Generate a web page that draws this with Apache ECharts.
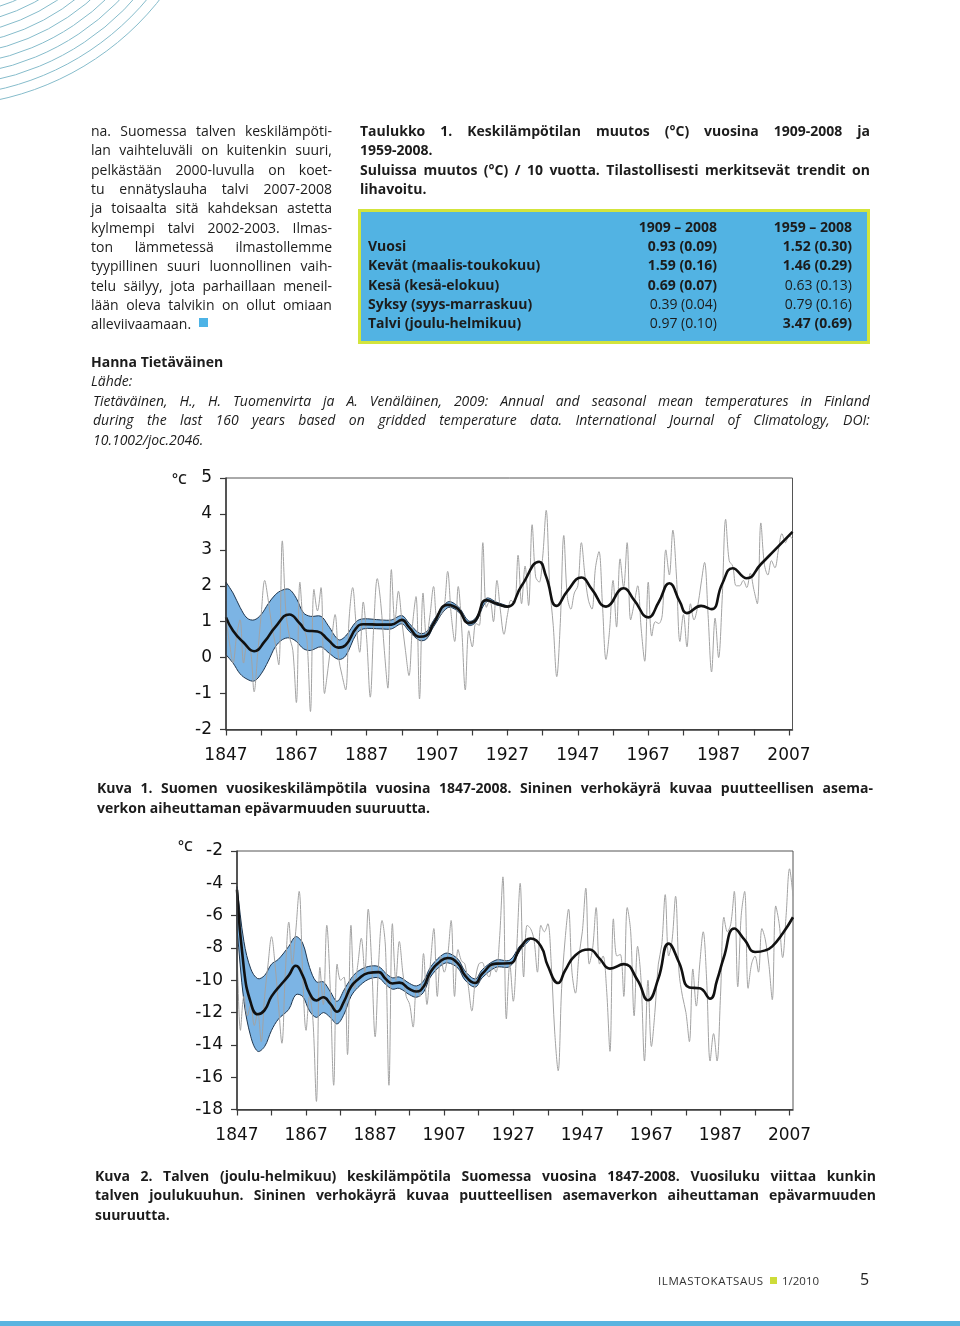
<!DOCTYPE html>
<html><head><meta charset="utf-8">
<script src="https://cdn.jsdelivr.net/npm/echarts@6/dist/echarts.min.js"></script>
<style>
html,body{margin:0;padding:0;background:#fff;}
#page{position:relative;width:960px;height:1326px;overflow:hidden;font-family:'Open Sans','Noto Sans',sans-serif;color:#1c1c1c;}
#chart{position:absolute;left:0;top:0;width:960px;height:1326px;}
.t{position:absolute;white-space:nowrap;}
.j{display:flex;justify-content:space-between;}
</style></head><body><div id="page"><div id="chart"></div></div>
<script>
// ---------- DATA ----------
const firstYear = 1847;
const tickYears = [1847,1857,1867,1877,1887,1897,1907,1917,1927,1937,1947,1957,1967,1977,1987,1997,2007];
const labelYears = [1847,1867,1887,1907,1927,1947,1967,1987,2007];

// Kuva 1: annual mean temperature 1847-2008 (one value per year)
const annual1 = [1.1,0.4,-0.15,0.6,1.05,-0.15,0.35,0.2,-0.95,0.1,
1.2,2.15,1.6,0.9,0.4,-0.2,3.25,1.3,0.6,0.2,
-1.25,2.1,0.9,0.5,-1.5,1.9,1.3,1.95,-1.0,-0.3,
0.5,1.2,0.0,-0.5,-0.9,1.1,1.95,0.9,0.15,1.55,
0.5,-1.1,0.9,2.2,1.5,0.2,-0.85,2.45,1.0,1.85,
1.0,0.2,-0.5,0.9,1.7,-1.15,1.8,0.55,1.2,1.98,
1.1,1.2,1.4,2.4,1.2,0.45,1.98,0.8,-0.9,0.75,
0.3,0.95,0.9,3.2,1.4,1.6,1.0,2.15,1.3,0.65,
1.2,1.6,1.5,2.85,1.5,2.55,1.45,3.7,2.25,2.1,
2.8,4.1,2.0,0.9,-0.53,0.95,3.4,1.7,1.35,1.8,
2.0,3.2,2.3,1.6,1.35,2.5,2.95,1.45,-0.05,0.75,
2.15,0.85,2.75,1.95,3.2,1.05,1.5,2.0,0.8,-0.1,
2.1,0.6,1.0,0.95,1.2,3.0,2.3,3.55,2.3,0.45,
1.2,0.3,1.5,1.05,1.4,2.05,2.65,1.2,-0.4,1.1,
0.0,1.6,3.85,2.7,2.55,2.0,2.0,2.15,1.95,2.35,
1.9,1.5,3.75,2.6,2.3,2.7,2.5,3.0,3.45,3.2,
3.4,3.3];
const meanYears1 = [1847,1849,1852,1855,1858,1861,1865,1868,1870,1873,1876,1879,1881,1884,1886,1891,1894,1897,1899,1902,1904,1906,1910,1913,1916,1918,1921,1924,1927,1931,1936,1938,1941,1944,1948,1951,1955,1960,1963,1967,1970,1973,1976,1978,1982,1985,1988,1991,1995,1999,2003,2008];
const mean1 = [1.12,0.75,0.42,0.18,0.45,0.85,1.2,0.95,0.75,0.73,0.5,0.28,0.35,0.82,0.93,0.92,0.92,1.05,0.85,0.58,0.62,0.95,1.47,1.35,0.96,1.05,1.6,1.5,1.42,2.0,2.67,2.25,1.44,1.85,2.23,1.9,1.42,1.93,1.6,1.12,1.55,2.07,1.55,1.24,1.44,1.35,2.05,2.49,2.21,2.6,3.0,3.5];
const bandYears1 = [1847,1849,1851,1853,1855,1857,1859,1861,1863,1865,1867,1869,1871,1874,1876,1879,1881,1884,1886,1891,1894,1897,1899,1902,1904,1906,1910,1913,1916,1918,1921,1924,1927];
const bandLow1 = [0.08,-0.15,-0.45,-0.6,-0.65,-0.45,-0.1,0.3,0.5,0.55,0.45,0.25,0.2,0.3,0.15,-0.05,0.05,0.65,0.8,0.8,0.8,0.94,0.74,0.48,0.52,0.86,1.39,1.28,0.9,0.99,1.55,1.46,1.4];
const bandHigh1 = [2.1,1.8,1.4,1.1,1.05,1.2,1.5,1.75,1.88,1.9,1.65,1.25,1.15,1.15,0.9,0.5,0.6,1.0,1.08,1.05,1.05,1.17,0.96,0.68,0.72,1.04,1.55,1.42,1.02,1.11,1.65,1.54,1.44];

// Kuva 2: winter (DJF) mean temperature 1847-2008
const annual2 = [-7.5,-13.1,-11.0,-12.2,-11.5,-12.8,-12.0,-13.8,-11.0,-9.0,
-7.3,-9.0,-11.5,-13.9,-9.5,-6.4,-9.0,-7.0,-4.5,-9.5,
-13.1,-11.0,-12.5,-17.5,-9.2,-11.5,-6.6,-10.5,-16.5,-9.0,
-10.0,-9.8,-14.6,-6.6,-10.5,-9.0,-7.4,-9.5,-5.6,-9.0,
-13.5,-9.0,-6.3,-8.0,-16.5,-6.5,-10.0,-7.6,-9.5,-11.0,
-11.5,-12.9,-10.5,-11.0,-8.35,-11.5,-9.0,-6.8,-11.0,-8.5,
-9.5,-8.5,-6.3,-11.0,-8.1,-8.8,-9.0,-10.4,-11.9,-10.0,
-9.0,-8.9,-9.5,-9.8,-9.0,-9.5,-7.5,-3.6,-12.4,-9.0,
-11.3,-8.0,-4.0,-9.8,-6.6,-6.8,-7.5,-9.5,-6.6,-7.0,
-6.5,-9.0,-13.2,-15.6,-10.5,-7.5,-5.6,-9.5,-10.8,-8.5,
-7.0,-4.3,-9.0,-8.0,-5.5,-9.0,-8.5,-10.5,-14.4,-6.2,
-8.5,-8.4,-11.0,-5.5,-7.0,-12.2,-7.9,-10.0,-15.0,-10.0,
-14.1,-12.0,-9.0,-7.8,-4.7,-8.5,-7.5,-4.8,-9.5,-11.0,
-12.0,-13.8,-9.3,-11.6,-9.0,-7.0,-10.0,-15.0,-13.3,-15.0,
-11.0,-6.1,-7.0,-6.5,-4.5,-10.4,-6.0,-4.5,-10.5,-9.0,
-8.5,-9.5,-6.8,-7.5,-9.0,-11.2,-5.4,-6.5,-8.6,-6.0,
-3.1,-4.8];
const meanYears2 = [1847,1849,1851,1853,1855,1857,1860,1862,1864,1866,1868,1870,1872,1874,1876,1878,1880,1882,1885,1888,1890,1892,1894,1897,1899,1901,1903,1906,1908,1911,1913,1916,1918,1922,1926,1929,1932,1935,1937,1940,1942,1945,1949,1952,1955,1959,1963,1966,1969,1972,1975,1978,1981,1984,1986,1988,1991,1994,1997,2000,2002,2005,2008];
const mean2 = [-4.4,-9.3,-11.4,-12.1,-11.85,-11.0,-10.2,-9.7,-9.1,-9.7,-10.8,-11.25,-11.05,-11.45,-11.95,-11.3,-10.4,-9.95,-9.55,-9.5,-9.9,-10.2,-10.15,-10.55,-10.7,-10.4,-9.5,-8.8,-8.62,-8.97,-9.7,-10.17,-9.6,-8.97,-8.95,-8.0,-7.42,-7.9,-9.1,-10.17,-9.4,-8.45,-8.1,-8.66,-9.28,-9.0,-10.0,-11.24,-9.9,-7.73,-8.9,-10.45,-10.5,-11.14,-10.0,-8.56,-6.8,-7.5,-8.25,-8.15,-7.9,-7.11,-6.1];
const bandYears2 = [1847,1849,1851,1853,1855,1857,1859,1862,1864,1866,1868,1870,1872,1874,1876,1878,1880,1882,1885,1888,1890,1892,1894,1897,1899,1901,1903,1906,1908,1911,1913,1916,1918,1922,1926,1929,1932];
const bandLow2 = [-6.8,-11.3,-13.5,-14.4,-14.1,-13.1,-12.4,-11.8,-10.9,-11.0,-11.9,-12.3,-12.0,-12.3,-12.7,-12.1,-11.0,-10.45,-9.95,-9.85,-10.25,-10.55,-10.5,-10.9,-11.05,-10.75,-9.8,-9.1,-8.92,-9.25,-9.98,-10.42,-9.85,-9.2,-9.15,-8.15,-7.45];
const bandHigh2 = [-4.2,-7.6,-9.3,-9.9,-9.7,-9.0,-8.7,-7.9,-7.3,-7.7,-9.2,-10.1,-10.1,-10.7,-11.3,-10.6,-9.9,-9.45,-9.15,-9.15,-9.55,-9.85,-9.8,-10.2,-10.35,-10.05,-9.2,-8.5,-8.32,-8.7,-9.42,-9.92,-9.35,-8.75,-8.75,-7.85,-7.4];

// Table 1
const tableHeaders = ['1909 – 2008','1959 – 2008'];
const tableRows = ['Vuosi','Kevät (maalis-toukokuu)','Kesä (kesä-elokuu)','Syksy (syys-marraskuu)','Talvi (joulu-helmikuu)'];
const trend1 = ['0.93 (0.09)','1.59 (0.16)','0.69 (0.07)','0.39 (0.04)','0.97 (0.10)'];
const trend2 = ['1.52 (0.30)','1.46 (0.29)','0.63 (0.13)','0.79 (0.16)','3.47 (0.69)'];
const sig1 = [true,true,true,false,false];
const sig2 = [true,true,false,false,true];

// Texts
const leftLines = ['na. Suomessa talven keskilämpöti-','lan vaihteluväli on kuitenkin suuri,','pelkästään 2000-luvulla on koet-','tu ennätyslauha talvi 2007-2008','ja toisaalta sitä kahdeksan astetta','kylmempi talvi 2002-2003. Ilmas-','ton lämmetessä ilmastollemme','tyypillinen suuri luonnollinen vaih-','telu säilyy, jota parhaillaan meneil-','lään oleva talvikin on ollut omiaan','alleviivaamaan.'];
const tableTitle = ['Taulukko 1. Keskilämpötilan muutos (°C) vuosina 1909-2008 ja','1959-2008.','Suluissa muutos (°C) / 10 vuotta. Tilastollisesti merkitsevät trendit on','lihavoitu.'];
const citeLines = ['Tietäväinen, H., H. Tuomenvirta ja A. Venäläinen, 2009: Annual and seasonal mean temperatures in Finland','during the last 160 years based on gridded temperature data. International Journal of Climatology, DOI:','10.1002/joc.2046.'];
const caption1 = ['Kuva 1. Suomen vuosikeskilämpötila vuosina 1847-2008. Sininen verhokäyrä kuvaa puutteellisen asema-','verkon aiheuttaman epävarmuuden suuruutta.'];
const caption2 = ['Kuva 2. Talven (joulu-helmikuu) keskilämpötila Suomessa vuosina 1847-2008. Vuosiluku viittaa kunkin','talven joulukuuhun. Sininen verhokäyrä kuvaa puutteellisen asemaverkon aiheuttaman epävarmuuden','suuruutta.'];

// ---------- PAGE TEXT ----------
const page = document.getElementById('page');
function place(text, x, cy, o) {
  o = o || {};
  const fs = o.size || 14, lh = o.lh || 18;
  const d = document.createElement('div');
  d.className = 't';
  d.style.top = (cy - lh / 2) + 'px';
  d.style.height = lh + 'px';
  d.style.lineHeight = lh + 'px';
  d.style.fontSize = fs + 'px';
  if (o.right) d.style.right = (960 - x) + 'px'; else d.style.left = x + 'px';
  if (o.weight) d.style.fontWeight = o.weight;
  if (o.italic) d.style.fontStyle = 'italic';
  if (o.color) d.style.color = o.color;
  if (o.family) d.style.fontFamily = o.family;
  if (o.ls) d.style.letterSpacing = o.ls;
  if (o.w) d.style.width = o.w + 'px';
  if (o.justify) {
    d.classList.add('j');
    text.split(' ').forEach(wd => { const s = document.createElement('span'); s.textContent = wd; d.appendChild(s); });
  } else d.textContent = text;
  page.appendChild(d);
  if (o.justify) { let f = fs; while (d.scrollWidth > o.w + 0.5 && f > 8) { f -= 0.25; d.style.fontSize = f + 'px'; } }
  return d;
}
function box(x, y, w, h, css) {
  const d = document.createElement('div');
  d.style.position = 'absolute'; d.style.left = x + 'px'; d.style.top = y + 'px';
  d.style.width = w + 'px'; d.style.height = h + 'px'; d.style.boxSizing = 'border-box';
  Object.assign(d.style, css || {});
  page.appendChild(d); return d;
}

// decorative arcs
(function () {
  const ns = 'http://www.w3.org/2000/svg';
  const svg = document.createElementNS(ns, 'svg');
  svg.setAttribute('width', '220'); svg.setAttribute('height', '120');
  svg.style.position = 'absolute'; svg.style.left = '0'; svg.style.top = '0';
  for (let r = 180; r <= 280; r += 10) {
    const c = document.createElementNS(ns, 'circle');
    c.setAttribute('cx', '-60'); c.setAttribute('cy', '-174'); c.setAttribute('r', r);
    c.setAttribute('fill', 'none'); c.setAttribute('stroke', '#86bccb'); c.setAttribute('stroke-width', '1');
    svg.appendChild(c);
  }
  page.appendChild(svg);
})();

const leftY = [130,149,169,188,207,227,246,265,285,304,323];
leftLines.forEach((t, i) => {
  const last = i === leftLines.length - 1;
  place(t, 91, leftY[i], { size: 14, lh: 19, w: last ? null : 241, justify: !last });
});
box(199, 318, 9, 9, { background: '#4db3e6' });

const titleY = [130,149,169,188];
tableTitle.forEach((t, i) => {
  const j = (i === 0 || i === 2);
  place(t, 360, titleY[i], { size: 14, lh: 19, weight: 700, w: j ? 510 : null, justify: j });
});

box(358, 209, 512, 135, { border: '3px solid #d3e43c', background: '#52b3e3' });
const rowY = [246,265,285,304,323];
place(tableHeaders[0], 717, 227, { size: 14, weight: 700, right: true });
place(tableHeaders[1], 852, 227, { size: 14, weight: 700, right: true });
tableRows.forEach((r, i) => {
  place(r, 368, rowY[i], { size: 14, weight: 700 });
  place(trend1[i], 717, rowY[i], { size: 14, weight: sig1[i] ? 700 : 400, right: true });
  place(trend2[i], 852, rowY[i], { size: 14, weight: sig2[i] ? 700 : 400, right: true });
});

place('Hanna Tietäväinen', 91, 362, { size: 14, weight: 700 });
place('Lähde:', 91, 381, { size: 14, italic: true });
const citeY = [401,420,440];
citeLines.forEach((t, i) => {
  const j = i < 2;
  place(t, 93, citeY[i], { size: 14, italic: true, w: j ? 777 : null, justify: j });
});

const cap1Y = [788,808];
caption1.forEach((t, i) => place(t, 97, cap1Y[i], { size: 14, weight: 700, w: i === 0 ? 776 : null, justify: i === 0 }));
const cap2Y = [1176,1195,1215];
caption2.forEach((t, i) => place(t, 95, cap2Y[i], { size: 14, weight: 700, w: i < 2 ? 781 : null, justify: i < 2 }));

place('°C', 172, 479, { size: 14, weight: 600 });
place('°C', 178, 846, { size: 14, weight: 600 });

place('ILMASTOKATSAUS', 658, 1281, { size: 11.5, ls: '0.6px', color: '#333' });
box(770, 1277, 7, 7, { background: '#cddc39' });
place('1/2010', 782, 1281, { size: 11.5, color: '#333' });
place('5', 860, 1279, { size: 16, color: '#222' });
box(0, 1321, 960, 5, { background: '#5ab4e0' });

// ---------- CHARTS ----------
function pairs(xs, ys) { return xs.map((x, i) => [x, ys[i]]); }
function yearly(vals) { return vals.map((v, i) => [firstYear + i, v]); }
const axisFont = { fontFamily: "'DejaVu Sans', Verdana, sans-serif", fontSize: 17, color: '#111' };
const axisLineStyle = { color: '#3a3a3a', width: 1.5 };

function xAxisFor(gi) {
  return { gridIndex: gi, type: 'value', min: 1847, max: 2008, z: 6,
    axisLine: { show: true, onZero: false, lineStyle: axisLineStyle },
    axisTick: { show: true, length: 6, customValues: tickYears, lineStyle: { color: '#3a3a3a', width: 1.2 } },
    axisLabel: Object.assign({ customValues: labelYears, margin: 18, formatter: v => String(v) }, axisFont),
    splitLine: { show: false } };
}
function yAxisFor(gi, min, max, interval) {
  return { gridIndex: gi, type: 'value', min, max, interval, z: 6,
    axisLine: { show: true, onZero: false, lineStyle: axisLineStyle },
    axisTick: { show: true, length: 6, lineStyle: { color: '#3a3a3a', width: 1.2 } },
    axisLabel: Object.assign({ margin: 14 }, axisFont),
    splitLine: { show: false } };
}
// uncertainty envelope: one smoothed polygon (upper edge left->right, lower edge right->left)
function bandSeries(gi, bY, bLo, bHi) {
  return {
    type: 'custom', xAxisIndex: gi, yAxisIndex: gi, z: 2, silent: true, animation: false,
    data: bY.map((y, i) => [y, bLo[i], bHi[i]]),
    encode: { x: 0, y: [1, 2] },
    renderItem: function (params, api) {
      if (params.dataIndex !== 0) return null;
      const top = bY.map((y, i) => api.coord([y, bHi[i]]));
      const bot = bY.map((y, i) => api.coord([y, bLo[i]])).reverse();
      const n = top.length;
      const pts = [top[0], top[0]].concat(top.slice(1, n - 1), [top[n - 1], top[n - 1], bot[0], bot[0]], bot.slice(1, n - 1), [bot[n - 1], bot[n - 1]]);
      return { type: 'polygon', shape: { points: pts, smooth: 0.35 },
        style: { fill: '#7cb4e4', stroke: '#1f354d', lineWidth: 1 } };
    }
  };
}
function seriesFor(gi, bY, bLo, bHi, ann, mY, m) {
  const base = { type: 'line', xAxisIndex: gi, yAxisIndex: gi, symbol: 'none', silent: true, animation: false };
  return [
    bandSeries(gi, bY, bLo, bHi),
    Object.assign({}, base, { data: yearly(ann), smooth: 0.35, z: 3,
      lineStyle: { color: '#a3a3a3', width: 1 } }),
    Object.assign({}, base, { data: pairs(mY, m), smooth: true, z: 4,
      lineStyle: { color: '#111', width: 2.6 } })
  ];
}

const chart = echarts.init(document.getElementById('chart'), null, { renderer: 'canvas', width: 960, height: 1326 });
chart.setOption({
  animation: false,
  backgroundColor: 'transparent',
  grid: [
    { left: 226, top: 478, width: 566.5, height: 251.5, show: true, borderColor: '#555', borderWidth: 1, backgroundColor: 'transparent' },
    { left: 237, top: 851, width: 556, height: 258.5, show: true, borderColor: '#555', borderWidth: 1, backgroundColor: 'transparent' }
  ],
  xAxis: [xAxisFor(0), xAxisFor(1)],
  yAxis: [yAxisFor(0, -2, 5, 1), yAxisFor(1, -18, -2, 2)],
  series: [].concat(
    seriesFor(0, bandYears1, bandLow1, bandHigh1, annual1, meanYears1, mean1),
    seriesFor(1, bandYears2, bandLow2, bandHigh2, annual2, meanYears2, mean2)
  )
});
</script></body></html>
